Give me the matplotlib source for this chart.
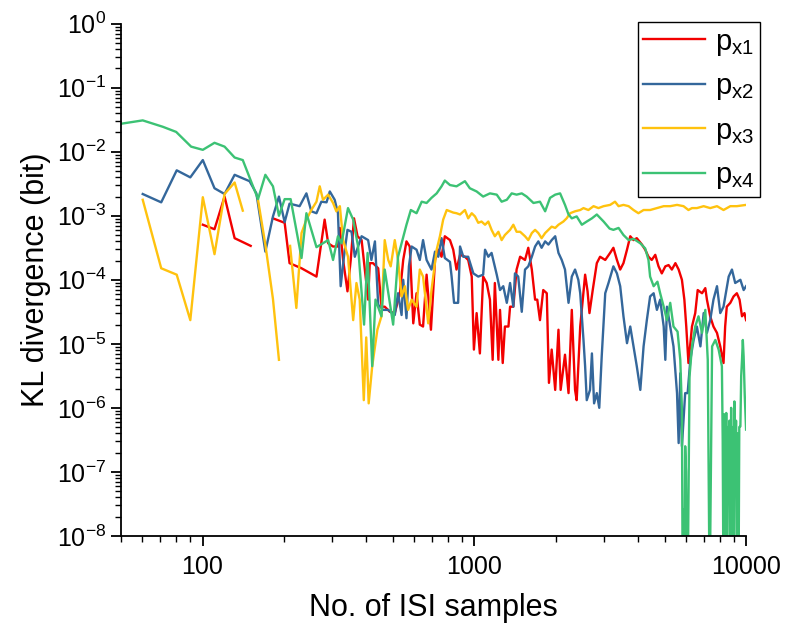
import numpy as np
import matplotlib
matplotlib.use('Agg')
import matplotlib.pyplot as plt
from matplotlib.ticker import LogLocator, FixedLocator, FixedFormatter, NullFormatter

plt.rcParams['font.family'] = ['Liberation Sans', 'DejaVu Sans']
plt.rcParams['mathtext.fontset'] = 'custom'
plt.rcParams['mathtext.rm'] = 'Liberation Sans'
plt.rcParams['mathtext.it'] = 'Liberation Sans'
plt.rcParams['axes.unicode_minus'] = False

# values, stored as log10(samples) and log10(KL divergence)
# nan = gap in the curve, -9 = below the axis floor
red_log_n = [2.001, 2.044, 2.081, 2.118, 2.177, np.nan,
             2.259, 2.302, 2.320, 2.364, 2.419, 2.449, 2.462, 2.480, 2.498, 2.505, 2.517, 2.533, 2.545, 2.557,
             2.570, 2.585, 2.597, 2.609, 2.615, 2.627, 2.646, 2.658, 2.670, 2.689, 2.707, 2.726, 2.738, 2.750,
             2.762, 2.775, 2.787, 2.799, 2.811, 2.824, 2.840, 2.855, 2.867, 2.879, 2.891, 2.910, 2.922, 2.934,
             2.947, 2.965, 2.977, 2.990, 2.998, 3.008, 3.020, 3.032, 3.045, 3.057, 3.067, 3.075, 3.088, 3.094,
             3.104, 3.112, 3.125, 3.131, 3.143, 3.155, 3.168, 3.186, 3.198, 3.211, 3.223, 3.231, 3.241, 3.253,
             3.266, 3.274, 3.284, 3.297, 3.309, 3.317, 3.333, 3.346, 3.358, 3.370, 3.376, 3.389, 3.407, 3.416,
             3.423, 3.435, 3.450, 3.462, 3.481, 3.499, 3.511, 3.524, 3.536, 3.548, 3.561, 3.573, 3.585, 3.597,
             3.616, 3.628, 3.640, 3.652, 3.665, 3.677, 3.689, 3.702, 3.714, 3.726, 3.739, 3.751, 3.763, 3.772,
             3.779, 3.787, 3.800, 3.812, 3.821, 3.837, 3.849, 3.855, 3.867, 3.879, 3.892, 3.904, 3.916, 3.922,
             3.928, 3.941, 3.953, 3.965, 3.975, 3.984, 3.993, 3.999]
red_log_kl = [-3.14, -3.21, -2.70, -3.35, -3.47, np.nan,
              -3.04, -3.11, -3.74, -3.82, -3.95, -3.06, -3.43, -3.48, -3.48, -3.19, -3.69, -4.18, -3.69, -3.04,
              -3.32, -3.38, -3.84, -4.31, -3.74, -3.74, -3.82, -4.42, -4.42, -4.50, -4.52, -4.21, -3.69, -3.40,
              -3.48, -4.68, -4.21, -4.70, -4.73, -3.92, -4.78, -3.69, -3.53, -3.64, -3.32, -3.38, -3.53, -3.84,
              -3.61, -3.64, -3.69, -3.95, -5.09, -4.52, -5.15, -3.95, -4.05, -4.31, -5.25, -4.05, -5.25, -4.47,
              -5.30, -4.73, -4.73, -4.42, -4.42, -3.84, -3.64, -3.69, -3.50, -3.84, -4.31, -4.31, -4.63, -4.16,
              -4.21, -5.61, -5.09, -5.72, -4.78, -5.72, -5.17, -5.77, -4.47, -5.72, -5.88, -4.73, -3.92, -4.18,
              -4.52, -4.16, -3.74, -3.64, -3.69, -3.58, -3.50, -3.69, -3.84, -3.74, -3.53, -3.32, -3.38, -3.35,
              -3.45, -3.53, -3.64, -3.69, -3.61, -3.79, -3.90, -3.79, -3.77, -3.84, -3.74, -3.84, -4.00, -4.31,
              -4.73, -5.30, -4.73, -4.52, -4.16, -4.21, -4.13, -4.31, -4.57, -4.73, -4.83, -5.04, -5.30, -4.73,
              -4.42, -4.36, -4.26, -4.21, -4.31, -4.57, -4.52, -4.63]

blue_log_n = [1.780, 1.848, 1.905, 1.955, 2.001, 2.044, 2.081, 2.118, 2.173, 2.198, 2.231, 2.259, 2.281, 2.302,
              2.320, 2.357, 2.382, 2.400, 2.419, 2.437, 2.456, 2.468, 2.486, 2.498, 2.508, 2.520, 2.533, 2.548,
              2.560, 2.572, 2.585, 2.609, 2.621, 2.634, 2.646, 2.664, 2.683, 2.707, 2.719, 2.732, 2.738, 2.750,
              2.759, 2.769, 2.787, 2.799, 2.811, 2.824, 2.842, 2.855, 2.867, 2.879, 2.891, 2.910, 2.916, 2.925,
              2.940, 2.947, 2.959, 2.977, 2.996, 3.014, 3.032, 3.039, 3.051, 3.063, 3.082, 3.094, 3.106, 3.119,
              3.131, 3.143, 3.149, 3.161, 3.174, 3.186, 3.198, 3.211, 3.223, 3.235, 3.247, 3.260, 3.272, 3.284,
              3.297, 3.309, 3.321, 3.333, 3.346, 3.358, 3.370, 3.382, 3.389, 3.401, 3.407, 3.413, 3.425, 3.432,
              3.440, 3.450, 3.459, 3.468, 3.481, 3.493, 3.511, 3.524, 3.536, 3.548, 3.561, 3.573, 3.585, 3.597,
              3.610, 3.622, 3.634, 3.646, 3.659, 3.671, 3.683, 3.696, 3.702, 3.708, 3.720, 3.732, 3.745, 3.751,
              3.757, 3.763, 3.775, 3.784, 3.794, 3.806, 3.818, 3.831, 3.843, 3.855, 3.867, 3.879, 3.892, 3.904,
              3.916, 3.935, 3.947, 3.959, 3.978, 3.990, 3.999]
blue_log_kl = [-2.66, -2.79, -2.29, -2.40, -2.13, -2.57, -2.66, -2.36, -2.46, -2.65, -3.56, -3.01, -2.70, -3.10,
               -2.81, -2.85, -2.65, -2.93, -2.96, -2.78, -2.79, -2.62, -2.75, -2.96, -4.10, -3.64, -3.22, -3.25,
               -3.64, -3.48, -3.32, -3.38, -3.69, -3.40, -4.39, -4.47, -4.47, -4.55, -4.21, -4.55, -4.00, -4.60,
               -3.79, -3.48, -3.53, -3.69, -3.38, -3.69, -3.84, -3.56, -3.64, -3.35, -3.66, -3.72, -3.95, -4.36,
               -4.36, -3.48, -3.64, -3.64, -3.90, -3.95, -3.92, -3.53, -3.64, -3.58, -3.92, -4.16, -4.10, -4.36,
               -4.05, -4.42, -3.90, -3.95, -4.50, -3.84, -3.79, -3.64, -3.48, -3.40, -3.50, -3.40, -3.45, -3.38,
               -3.32, -3.58, -3.69, -3.84, -4.36, -3.95, -3.84, -4.00, -4.21, -4.94, -5.35, -5.88, -5.72, -5.15,
               -5.93, -5.77, -6.00, -5.20, -4.21, -4.05, -3.79, -3.90, -4.10, -4.57, -4.99, -4.73, -5.04, -5.35,
               -5.72, -5.04, -4.63, -4.26, -4.21, -4.47, -4.31, -4.73, -5.25, -4.42, -4.73, -5.04, -5.77, -6.55,
               -5.46, -6.60, -5.77, -5.77, -5.25, -4.94, -4.73, -5.04, -4.52, -4.83, -4.63, -4.31, -4.10, -4.52,
               -4.42, -3.95, -3.84, -4.05, -4.00, -4.16, -4.10]

yellow_log_n = [1.780, 1.848, 1.905, 1.955, 2.001, 2.044, 2.081, 2.118, 2.148, np.nan,
                2.204, 2.231, 2.259, 2.281, np.nan,
                2.322, 2.345, 2.364, 2.382, 2.400, 2.419, 2.431, 2.443, 2.462, 2.480, 2.492, 2.505, 2.517, 2.535,
                2.554, 2.566, 2.578, 2.593, 2.602, 2.611, 2.624, 2.643, 2.658, 2.670, 2.683, 2.692, 2.707, 2.719,
                2.732, 2.744, 2.756, 2.769, 2.787, 2.799, 2.811, 2.830, 2.842, 2.861, 2.873, 2.885, 2.898, 2.910,
                2.922, 2.934, 2.947, 2.965, 2.977, 2.990, 3.002, 3.014, 3.026, 3.039, 3.051, 3.063, 3.075, 3.088,
                3.100, 3.112, 3.131, 3.143, 3.155, 3.168, 3.186, 3.198, 3.211, 3.223, 3.235, 3.247, 3.260, 3.272,
                3.284, 3.297, 3.309, 3.327, 3.339, 3.352, 3.370, 3.389, 3.401, 3.419, 3.438, 3.456, 3.475, 3.499,
                3.517, 3.530, 3.548, 3.567, 3.585, 3.603, 3.622, 3.646, 3.671, 3.696, 3.720, 3.745, 3.769, 3.787,
                3.800, 3.818, 3.843, 3.867, 3.892, 3.916, 3.941, 3.965, 3.999]
yellow_log_kl = [-2.75, -3.82, -3.92, -4.63, -2.71, -3.60, -2.66, -2.48, -2.92, np.nan,
                 -2.75, -3.45, -4.30, -5.25, np.nan,
                 -3.47, -4.44, -3.27, -3.06, -2.91, -2.78, -2.54, -2.75, -2.67, -2.80, -2.93, -2.85, -3.38, -3.64,
                 -4.63, -4.05, -4.31, -5.88, -4.90, -5.93, -5.35, -4.78, -4.57, -3.38, -3.69, -3.79, -3.38, -3.69,
                 -4.26, -4.10, -4.47, -4.31, -4.42, -3.84, -3.95, -4.68, -4.16, -3.53, -3.32, -3.06, -2.91, -2.93,
                 -2.95, -2.96, -2.98, -2.91, -3.04, -2.96, -3.01, -3.11, -3.09, -3.14, -3.09, -3.22, -3.32, -3.25,
                 -3.38, -3.30, -3.22, -3.14, -3.25, -3.25, -3.32, -3.38, -3.27, -3.22, -3.27, -3.35, -3.27, -3.22,
                 -3.17, -3.19, -3.14, -3.09, -3.04, -2.96, -2.93, -2.91, -2.88, -2.91, -2.85, -2.88, -2.85, -2.83,
                 -2.78, -2.85, -2.83, -2.85, -2.91, -2.96, -2.91, -2.91, -2.88, -2.85, -2.85, -2.83, -2.85, -2.91,
                 -2.88, -2.88, -2.85, -2.88, -2.85, -2.91, -2.85, -2.85, -2.83]

green_log_n = [1.704, 1.780, 1.854, 1.903, 1.958, 2.001, 2.044, 2.081, 2.118, 2.148, 2.204, 2.231, 2.259, 2.281,
               2.302, 2.324, 2.364, 2.382, 2.419, 2.462, 2.480, 2.498, 2.511, 2.535, 2.554, 2.572, 2.594, 2.607,
               2.624, 2.636, 2.658, 2.670, 2.701, 2.719, 2.750, 2.766, 2.787, 2.806, 2.824, 2.842, 2.861, 2.879,
               2.891, 2.910, 2.934, 2.965, 2.983, 3.008, 3.032, 3.057, 3.082, 3.100, 3.119, 3.137, 3.155, 3.174,
               3.192, 3.217, 3.241, 3.260, 3.278, 3.297, 3.315, 3.333, 3.346, 3.358, 3.376, 3.395, 3.413, 3.432,
               3.450, 3.475, 3.497, 3.511, 3.530, 3.548, 3.567, 3.585, 3.610, 3.628, 3.640, 3.646, 3.659, 3.673,
               3.683, 3.696, 3.708, 3.720, 3.732, 3.747, 3.757, 3.763, 3.766, 3.769, 3.772, 3.775, 3.778, 3.781,
               3.784, 3.787, 3.791, 3.800, 3.812, 3.824, 3.837, 3.849, 3.858, 3.865, 3.874, 3.886, 3.898, 3.910,
               3.913, 3.916, 3.919, 3.922, 3.926, 3.929, 3.932, 3.935, 3.938, 3.941, 3.944, 3.947, 3.950, 3.953,
               3.956, 3.959, 3.962, 3.965, 3.968, 3.971, 3.974, 3.978, 3.981, 3.984, 3.987, 3.990, 3.994, 3.999]
green_log_kl = [-1.56, -1.51, -1.61, -1.69, -1.92, -1.97, -1.86, -1.92, -2.09, -2.13, -2.74, -2.36, -2.54, -3.00,
                -2.74, -2.74, -3.66, -2.96, -3.49, -3.38, -3.69, -3.32, -3.43, -2.88, -3.06, -3.48, -4.70, -3.58,
                -5.35, -4.31, -4.57, -3.84, -4.70, -3.64, -3.14, -2.91, -2.96, -2.78, -2.80, -2.72, -2.65, -2.54,
                -2.45, -2.52, -2.54, -2.46, -2.57, -2.62, -2.70, -2.65, -2.67, -2.78, -2.75, -2.65, -2.67, -2.65,
                -2.70, -2.80, -2.78, -2.93, -2.72, -2.67, -2.65, -2.83, -2.98, -3.04, -3.01, -3.14, -3.09, -3.04,
                -2.98, -3.09, -3.20, -3.22, -3.19, -3.30, -3.38, -3.36, -3.43, -3.51, -3.69, -3.95, -4.10, -4.03,
                -4.21, -4.42, -4.63, -4.36, -4.73, -4.81, -5.25, -6.03, -9.00, -7.59, -9.00, -6.60, -7.00, -9.00,
                -9.00, -7.50, -5.51, -5.04, -4.73, -4.57, -4.83, -4.47, -5.25, -9.00, -5.04, -4.94, -5.09, -5.35,
                -6.50, -9.00, -6.10, -8.00, -6.08, -9.00, -6.30, -7.50, -6.20, -9.00, -6.00, -8.20, -6.30, -9.00,
                -5.90, -7.30, -6.20, -9.00, -6.40, -9.00, -6.30, -6.29, -5.50, -5.25, -4.94, -5.20, -5.80, -6.34]

series = [
    (red_log_n, red_log_kl, '#f20000', r'$\mathregular{p_{x1}}$'),
    (blue_log_n, blue_log_kl, '#34679b', r'$\mathregular{p_{x2}}$'),
    (yellow_log_n, yellow_log_kl, '#ffc20e', r'$\mathregular{p_{x3}}$'),
    (green_log_n, green_log_kl, '#3cc274', r'$\mathregular{p_{x4}}$'),
]

fig = plt.figure(figsize=(7.94, 6.41), dpi=100, facecolor='white')
ax = fig.add_axes([0.152, 0.164, 0.788, 0.799])

for log_n, log_kl, color, label in series:
    n = 10 ** np.array(log_n)
    kl = 10 ** np.array(log_kl)
    ax.plot(n, kl, color=color, lw=1.7, label=label)

ax.set_xscale('log')
ax.set_yscale('log')
ax.set_xlim(50, 10000)
ax.set_ylim(1e-8, 1)

ax.spines['top'].set_visible(False)
ax.spines['right'].set_visible(False)
ax.spines['left'].set_linewidth(1.3)
ax.spines['bottom'].set_linewidth(1.3)

ax.xaxis.set_major_locator(FixedLocator([100, 1000, 10000]))
ax.xaxis.set_major_formatter(FixedFormatter(['100', '1000', '10000']))
ax.xaxis.set_minor_locator(LogLocator(base=10, subs=np.arange(2, 10), numticks=20))
ax.xaxis.set_minor_formatter(NullFormatter())
ax.yaxis.set_major_locator(LogLocator(base=10, numticks=20))
ax.yaxis.set_minor_locator(LogLocator(base=10, subs=np.arange(2, 10), numticks=20))
ax.yaxis.set_minor_formatter(NullFormatter())

ax.tick_params(which='major', direction='out', length=7, width=1.3, labelsize=18)
ax.tick_params(which='minor', direction='out', length=4, width=1.0)
ax.tick_params(axis='x', pad=7)

ax.set_xlabel('No. of ISI samples', fontsize=22, labelpad=10)
ax.set_ylabel('KL divergence (bit)', fontsize=22, labelpad=4)

leg = ax.legend(loc='upper right', bbox_to_anchor=(1.022, 1.004), borderaxespad=0,
                fontsize=21, handlelength=2.1, handletextpad=0.35, borderpad=0.2,
                labelspacing=0.5, fancybox=False, edgecolor='black', framealpha=1)
leg.get_frame().set_linewidth(1.0)

plt.savefig('out.png', dpi=100)
